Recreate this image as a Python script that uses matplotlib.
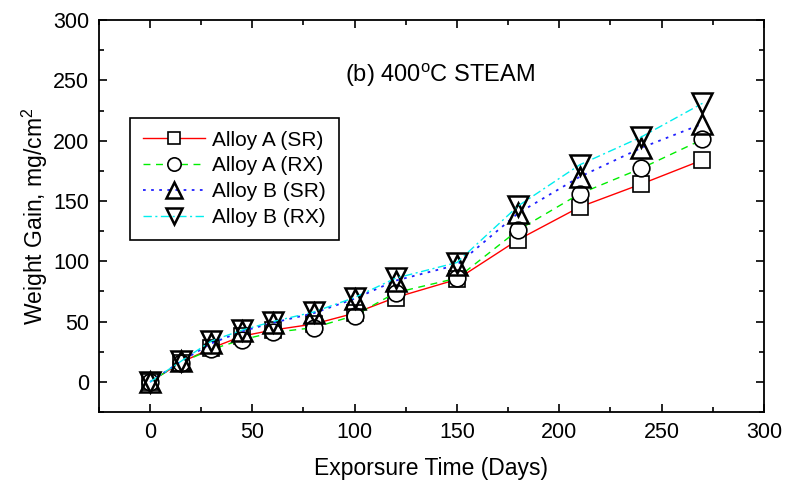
import matplotlib.pyplot as plt
import numpy as np

plt.rcParams['font.family'] = ['Liberation Sans', 'DejaVu Sans']
plt.rcParams['mathtext.fontset'] = 'custom'
plt.rcParams['mathtext.rm'] = 'Liberation Sans'
plt.rcParams['mathtext.it'] = 'Liberation Sans:italic'

# dados
dias = [0, 15, 30, 45, 60, 80, 100, 120, 150, 180, 210, 240, 270]
liga_a_sr = [0, 16, 28, 38, 43, 48, 57, 70, 85, 118, 145, 164, 184]
liga_a_rx = [0, 16, 27, 35, 41, 45, 55, 74, 86, 126, 156, 177, 201]
liga_b_sr = [0, 17, 32, 42, 49, 57, 69, 84, 97, 140, 170, 194, 214]
liga_b_rx = [0, 17, 34, 43, 50, 58, 70, 86, 99, 146, 180, 203, 231]

rotulos = ['Alloy A (SR)', 'Alloy A (RX)', 'Alloy B (SR)', 'Alloy B (RX)']

fig = plt.figure(figsize=(7.85, 4.9), dpi=100)
ax = fig.add_axes([0.126, 0.159, 0.847, 0.80])

ax.plot(dias, liga_a_sr, color='#ff0000', ls='-', lw=1.0, marker='s', ms=11.5,
        mfc='white', mec='black', mew=1.2, label=rotulos[0])
ax.plot(dias, liga_a_rx, color='#00ee00', ls=(0, (5, 4)), lw=1.0, marker='o', ms=12,
        mfc='white', mec='black', mew=1.2, label=rotulos[1])
ax.plot(dias, liga_b_sr, color='#2020ff', ls=(0, (1.5, 3)), lw=1.3, marker='^', ms=15,
        mfc='none', mec='black', mew=1.8, label=rotulos[2])
ax.plot(dias, liga_b_rx, color='#00eeee', ls=(0, (6, 2.5, 1.5, 2.5)), lw=1.0, marker='v', ms=15,
        mfc='none', mec='black', mew=1.8, label=rotulos[3])

ax.set_xlim(-25, 300)
ax.set_ylim(-25, 300)
ax.set_xticks(np.arange(0, 301, 50))
ax.set_xticks(np.arange(-25, 301, 25), minor=True)
ax.set_yticks(np.arange(0, 301, 50))
ax.set_yticks(np.arange(-25, 301, 25), minor=True)
ax.tick_params(which='both', direction='in', top=True, right=True, width=1.2, labelsize=15.5)
ax.tick_params(which='major', length=6, pad=7)
ax.tick_params(which='minor', length=3.5)
for s in ax.spines.values():
    s.set_linewidth(1.3)

ax.set_xlabel('Exporsure Time (Days)', fontsize=16.5, labelpad=10)
ax.set_ylabel('Weight Gain, mg/cm$^2$', fontsize=16.5, labelpad=2)
ax.text(0.513, 0.86, '(b) 400$^{\\mathrm{o}}$C STEAM', transform=ax.transAxes,
        ha='center', va='center', fontsize=17)

leg = ax.legend(loc='upper left', bbox_to_anchor=(0.047, 0.75), fontsize=15,
                frameon=True, fancybox=False, edgecolor='black', framealpha=1,
                handlelength=3.0, handletextpad=0.35, labelspacing=0.33,
                borderpad=0.6, borderaxespad=0, markerscale=0.8)
leg.get_frame().set_linewidth(1.2)

fig.savefig('out.png', dpi=100)
